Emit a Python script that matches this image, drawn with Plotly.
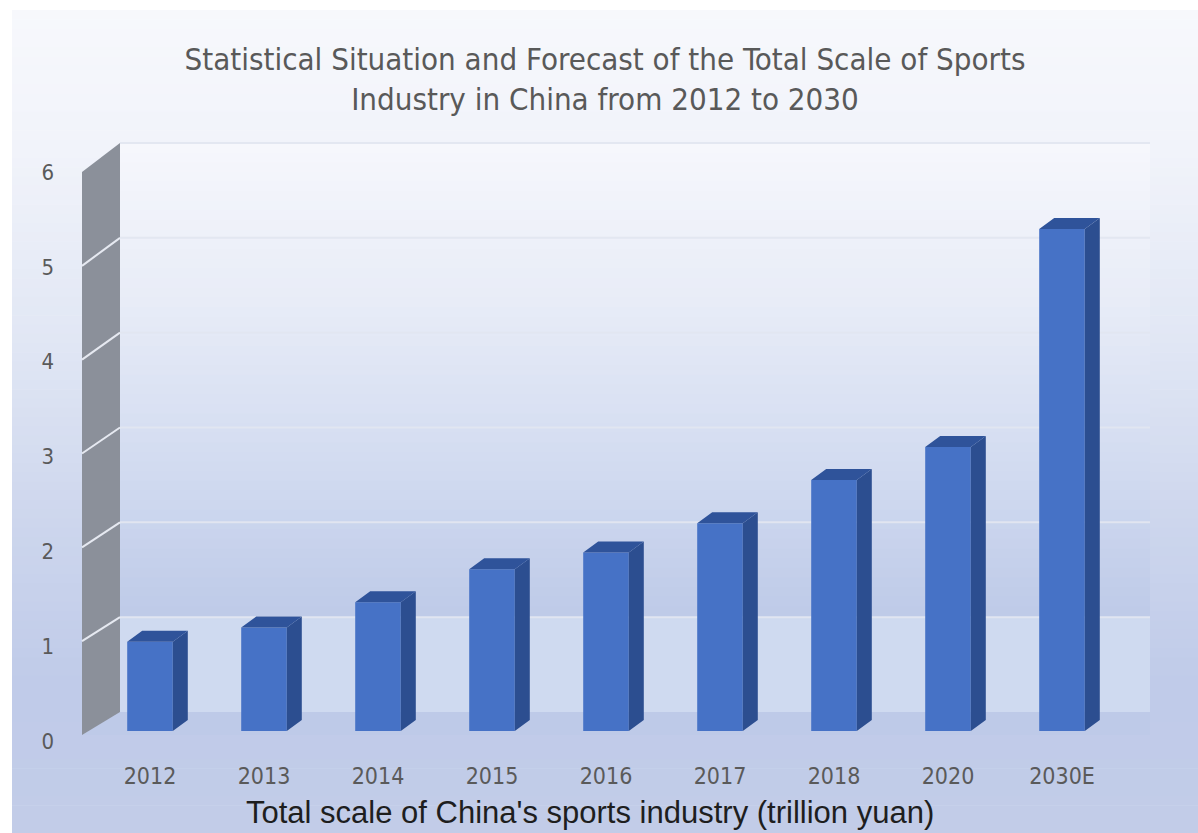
import numpy as np
import plotly.graph_objects as go

# ---- data -------------------------------------------------------------
years = ["2012", "2013", "2014", "2015", "2016", "2017", "2018", "2020", "2030E"]
scale_trillion = [0.95, 1.10, 1.37, 1.72, 1.90, 2.21, 2.67, 3.02, 5.34]
y_tick_values = [0, 1, 2, 3, 4, 5, 6]

title_text = ("Statistical Situation and Forecast of the Total Scale of Sports"
              "<br>Industry in China from 2012 to 2030")
x_title_text = "Total scale of China's sports industry (trillion yuan)"

# ---- page / plot geometry --------------------------------------------
W, H = 1198, 833
ML, MR, MT, MB = 62, 33, 100, 73
PW, PH = W - ML - MR, H - MT - MB

PX_X, X0_PX = 114.0, 150.0     # px per category, px of first category
PX_Y, Y0_PX = 94.0, 731.0      # px per unit, px of zero on the bar plane


def xd(px):
    return (px - X0_PX) / PX_X


def yd(py):
    return (Y0_PX - py) / PX_Y


def xp(px):
    return (px - ML) / PW


def yp(py):
    return (MT + PH - py) / PH


x_range = [xd(ML), xd(ML + PW)]
y_range = [yd(MT + PH), yd(MT)]

# tick label axis: 0 sits at 741px, 6 at 172px
s2 = (741 - 172) / 6.0
y2_range = [-(MT + PH - 741) / s2, (741 - MT) / s2]

# 3-D box geometry (walls)
WALL_FRONT_X, WALL_BACK_X, WALL_RIGHT_X = xd(82), xd(120), xd(1150)


def front_y(k):
    return yd(735 + (172 - 735) * k / 6.0)


def back_y(k):
    return yd(712 + (143 - 712) * k / 6.0)


BAR_W = 0.40
DX, DY = 15 / PX_X, 11 / PX_Y

FONT_NARROW = "Liberation Sans Narrow, DejaVu Sans Condensed, Arial Narrow, sans-serif"
FONT_SANS = "Liberation Sans, Arial, sans-serif"


def lerp_color(stops, t):
    ts = [s[0] for s in stops]
    cols = np.array([s[1] for s in stops], dtype=float)
    rgb = [np.interp(t, ts, cols[:, i]) for i in range(3)]
    return "rgb(%d,%d,%d)" % tuple(int(round(c)) for c in rgb)


shapes = []

# page background gradient
bg_stops = [(10, (247, 248, 252)), (150, (241, 243, 250)), (350, (224, 230, 244)),
            (520, (205, 214, 237)), (680, (192, 203, 233)), (833, (194, 204, 232))]
ys = np.linspace(10, 833, 90)
for a, b in zip(ys[:-1], ys[1:]):
    c = lerp_color(bg_stops, (a + b) / 2)
    shapes.append(dict(type="rect", xref="paper", yref="paper", layer="below",
                       x0=xp(12), x1=xp(W), y0=yp(b + 0.6), y1=yp(a),
                       fillcolor=c, line_width=0))

# back wall gradient
wall_stops = [(143, (246, 247, 252)), (300, (232, 236, 247)), (450, (212, 221, 241)),
              (600, (192, 204, 233)), (616, (190, 202, 232))]
ws = np.linspace(143, 616, 50)
for a, b in zip(ws[:-1], ws[1:]):
    c = lerp_color(wall_stops, (a + b) / 2)
    shapes.append(dict(type="rect", xref="x", yref="y", layer="below",
                       x0=WALL_BACK_X, x1=WALL_RIGHT_X, y0=yd(b + 0.6), y1=yd(a),
                       fillcolor=c, line_width=0))
# lighter lowest band of the back wall
shapes.append(dict(type="rect", xref="x", yref="y", layer="below",
                   x0=WALL_BACK_X, x1=WALL_RIGHT_X, y0=back_y(0), y1=back_y(1),
                   fillcolor="rgb(207,218,240)", line_width=0))

# floor
floor_path = "M %f,%f L %f,%f L %f,%f L %f,%f Z" % (
    WALL_FRONT_X, front_y(0), WALL_BACK_X, back_y(0),
    WALL_RIGHT_X, back_y(0), WALL_RIGHT_X, front_y(0))
shapes.append(dict(type="path", xref="x", yref="y", layer="below", path=floor_path,
                   fillcolor="rgb(190,202,232)", line_width=0))

# back-wall gridlines
for k in y_tick_values[1:]:
    shapes.append(dict(type="line", xref="x", yref="y", layer="below",
                       x0=WALL_BACK_X, x1=WALL_RIGHT_X, y0=back_y(k), y1=back_y(k),
                       line=dict(color="rgba(226,230,240,0.95)", width=2)))

# left side wall
side_path = "M %f,%f L %f,%f L %f,%f L %f,%f Z" % (
    WALL_FRONT_X, front_y(0), WALL_BACK_X, back_y(0),
    WALL_BACK_X, back_y(6), WALL_FRONT_X, front_y(6))
shapes.append(dict(type="path", xref="x", yref="y", layer="below", path=side_path,
                   fillcolor="rgb(139,144,154)", line_width=0))
for k in y_tick_values[1:-1]:
    shapes.append(dict(type="line", xref="x", yref="y", layer="below",
                       x0=WALL_FRONT_X, x1=WALL_BACK_X, y0=front_y(k), y1=back_y(k),
                       line=dict(color="rgba(235,238,245,0.95)", width=2)))

# ---- bars -------------------------------------------------------------
idx = list(range(len(years)))

fig = go.Figure()
fig.add_trace(go.Bar(x=idx, y=scale_trillion, width=BAR_W,
                     marker=dict(color="#4672c6", line_width=0),
                     hovertemplate="%{customdata}: %{y}<extra></extra>",
                     customdata=years, showlegend=False))

side_x, side_y, top_x, top_y = [], [], [], []
for c, v in zip(idx, scale_trillion):
    r, l = c + BAR_W / 2, c - BAR_W / 2
    side_x += [r, r + DX, r + DX, r, r, None]
    side_y += [0, DY, v + DY, v, 0, None]
    top_x += [l, l + DX, r + DX, r, l, None]
    top_y += [v, v + DY, v + DY, v, v, None]

fig.add_trace(go.Scatter(x=side_x, y=side_y, mode="lines", fill="toself",
                         fillcolor="#2c4e90", line=dict(width=0, color="#2c4e90"),
                         hoverinfo="skip", showlegend=False))
fig.add_trace(go.Scatter(x=top_x, y=top_y, mode="lines", fill="toself",
                         fillcolor="#2f539a", line=dict(width=0, color="#2f539a"),
                         hoverinfo="skip", showlegend=False))
# carrier for the tick-label axis
fig.add_trace(go.Scatter(x=[idx[0]], y=[0], yaxis="y2", mode="markers",
                         marker=dict(opacity=0), hoverinfo="skip", showlegend=False))

fig.update_layout(
    width=W, height=H,
    margin=dict(l=ML, r=MR, t=MT, b=MB),
    paper_bgcolor="white", plot_bgcolor="rgba(0,0,0,0)",
    shapes=shapes,
    title=dict(text=title_text, x=0.505, xanchor="center", yref="container",
               y=1 - 70 / H, yanchor="middle",
               font=dict(family=FONT_NARROW, size=31, color="#595959")),
    xaxis=dict(range=x_range, tickmode="array", tickvals=idx, ticktext=years,
               showgrid=False, zeroline=False, showline=False, ticks="",
               tickfont=dict(family=FONT_NARROW, size=23, color="#5a5a5a")),
    yaxis=dict(range=y_range, showgrid=False, zeroline=False, showline=False,
               showticklabels=False, ticks=""),
    yaxis2=dict(range=y2_range, overlaying="y", side="left", tickmode="array",
                tickvals=y_tick_values, showgrid=False, zeroline=False,
                showline=False, ticks="", ticklabelstandoff=7,
                tickfont=dict(family=FONT_NARROW, size=22, color="#5a5a5a")),
    annotations=[dict(text=x_title_text, xref="paper", yref="paper",
                      x=xp(590), y=yp(H - 1), xanchor="center", yanchor="bottom",
                      showarrow=False,
                      font=dict(family=FONT_SANS, size=31, color="#1e1e1e"))],
)

fig.write_html("out.html")
